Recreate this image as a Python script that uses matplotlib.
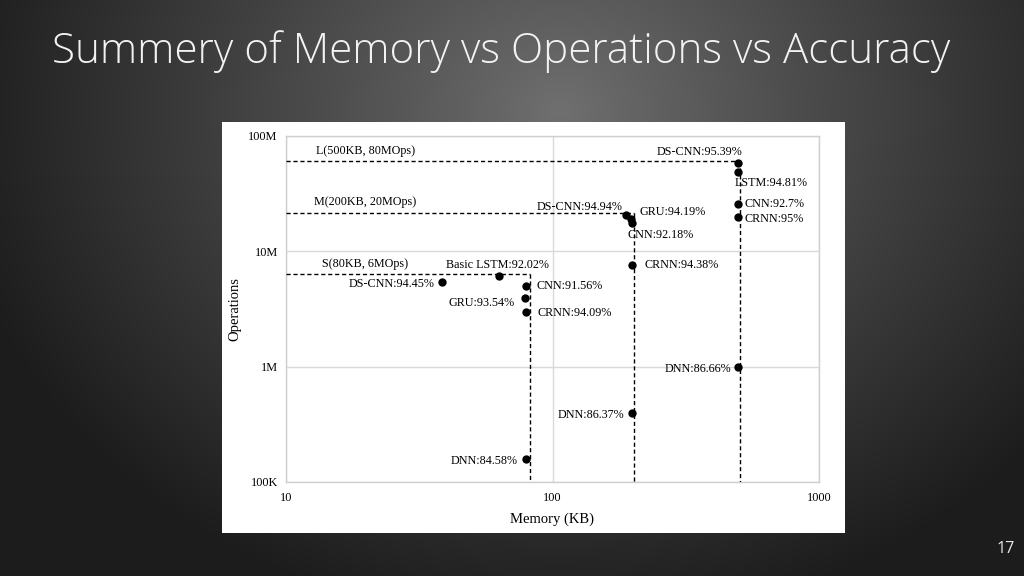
import numpy as np
import matplotlib
matplotlib.use("Agg")
import matplotlib.pyplot as plt
from matplotlib.patches import Rectangle

# ---------------- data ----------------
models = ["DS-CNN", "LSTM", "CNN", "CRNN", "DNN",
          "DS-CNN", "GRU", "CNN", "CRNN", "DNN",
          "Basic LSTM", "DS-CNN", "CNN", "GRU", "CRNN", "DNN"]
accuracy = ["95.39%", "94.81%", "92.7%", "95%", "86.66%",
            "94.94%", "94.19%", "92.18%", "94.38%", "86.37%",
            "92.02%", "94.45%", "91.56%", "93.54%", "94.09%", "84.58%"]
memory_kb = [497, 497, 497, 497, 497,
             189, 197, 199, 199, 199,
             63, 38.5, 79.5, 78.7, 79.5, 79.5]
operations = [58.3e6, 48.7e6, 25.7e6, 19.9e6, 0.99e6,
              20.6e6, 19.1e6, 17.6e6, 7.6e6, 0.40e6,
              6.1e6, 5.4e6, 5.0e6, 3.9e6, 3.0e6, 0.158e6]

limit_names = ["L(500KB, 80MOps)", "M(200KB, 20MOps)", "S(80KB, 6MOps)"]
limit_memory = [505, 202, 82]
limit_ops = [61e6, 21.5e6, 6.3e6]

xticks = [10, 100, 1000]
xtick_labels = ["10", "100", "1000"]
yticks = [1e5, 1e6, 1e7, 1e8]
ytick_labels = ["100K", "1M", "10M", "100M"]

# label placement (pixels offset, alignment)
label_offsets = [(4, 11, "right"), (-3, -11, "left"), (6, 0, "left"), (6, -2, "left"), (-7, -2, "right"),
                 (-4, 8, "right"), (9, 7, "left"), (-5, -12, "left"), (12, 0, "left"), (-8, -2, "right"),
                 (-2, 11, "center"), (-8, -2, "right"), (11, 0, "left"), (-10, -5, "right"), (12, -1, "left"),
                 (-8, -2, "right")]
limit_offsets = [(30, 10), (28, 11), (36, 10)]

# ---------------- figure ----------------
W, H = 1024, 576
fig = plt.figure(figsize=(W / 100, H / 100), dpi=100)

# background radial gradient
bg = fig.add_axes([0, 0, 1, 1])
yy, xx = np.mgrid[0:H, 0:W]
r = np.sqrt(((xx - 560) / 620.0) ** 2 + ((yy - 110) / 520.0) ** 2)
r = np.clip(r, 0, 1)
val = 0.44 - (0.44 - 0.11) * r ** 0.9
bg.imshow(np.dstack([val, val, val]), extent=[0, W, H, 0], aspect="auto", interpolation="bilinear")
bg.set_xlim(0, W)
bg.set_ylim(H, 0)
bg.axis("off")

fig.text(52 / W, 1 - 52 / H, "Summery of Memory vs Operations vs Accuracy",
         color="#f2f2f2", fontsize=30.3, family="Open Sans", weight="light",
         ha="left", va="center")
fig.text(1006 / W, 1 - 549 / H, "17", color="#e8e8e8", fontsize=11.5,
         family="Open Sans", ha="center", va="center")

# white panel
fig.patches.append(Rectangle((222 / W, 1 - 533 / H), 623 / W, 411 / H,
                             transform=fig.transFigure, facecolor="white",
                             edgecolor="none", zorder=1))

serif = "Liberation Serif"
ax = fig.add_axes([286 / W, 1 - 482 / H, 533 / W, 346 / H])
ax.set_zorder(2)
ax.set_facecolor("white")
ax.set_xscale("log")
ax.set_yscale("log")
ax.set_xlim(10, 1000)
ax.set_ylim(1e5, 1e8)
ax.set_xticks(xticks)
ax.set_xticklabels(xtick_labels, family=serif, fontsize=8.8)
ax.set_yticks(yticks)
ax.set_yticklabels(ytick_labels, family=serif, fontsize=8.8)
ax.minorticks_off()
ax.tick_params(axis="y", length=0, pad=6)
ax.tick_params(axis="x", length=0, pad=7)
ax.grid(True, color="#d9d9d9", linewidth=1)
ax.set_axisbelow(True)
for s in ax.spines.values():
    s.set_color("#cfcfcf")
    s.set_linewidth(1)
ax.set_xlabel("Memory (KB)", family=serif, fontsize=10.5, labelpad=6)
ax.set_ylabel("Operations", family=serif, fontsize=10.5, labelpad=5)

# limit boxes
for name, m, o, (dx, dy) in zip(limit_names, limit_memory, limit_ops, limit_offsets):
    ax.plot([10, m], [o, o], linestyle=(0, (3, 2)), color="black", linewidth=1.0, zorder=3)
    ax.plot([m, m], [o, 1e5], linestyle=(0, (3, 2)), color="black", linewidth=1.0, zorder=3)
    ax.annotate(name, xy=(10, o), xytext=(dx, dy), textcoords="offset pixels",
                ha="left", va="center", family=serif, fontsize=8.7, zorder=5)

ax.scatter(memory_kb, operations, s=36, color="black", zorder=4, linewidths=0)

for mdl, acc, m, o, (dx, dy, ha) in zip(models, accuracy, memory_kb, operations, label_offsets):
    ax.annotate(f"{mdl}:{acc}", xy=(m, o), xytext=(dx, dy), textcoords="offset pixels",
                ha=ha, va="center", family=serif, fontsize=8.7, zorder=5)

fig.savefig("out.png", dpi=100)
